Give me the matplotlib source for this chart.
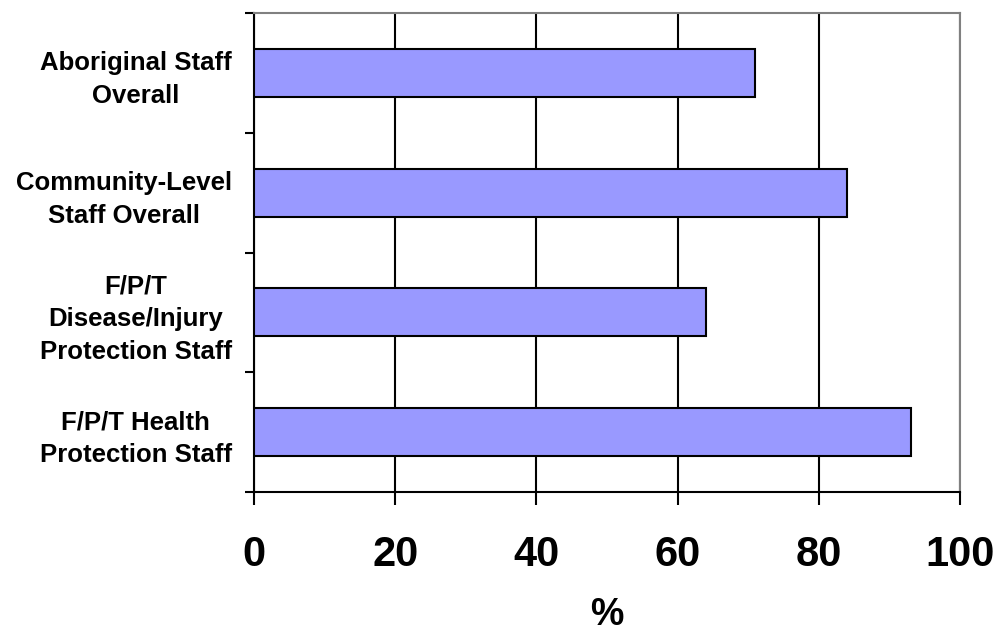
import matplotlib.pyplot as plt
from matplotlib.ticker import FixedLocator

plt.rcParams['font.family'] = ['Liberation Sans', 'DejaVu Sans']

# staff groups, top to bottom
groups = [
    "Aboriginal Staff\nOverall",
    "Community-Level\nStaff Overall",
    "F/P/T\nDisease/Injury\nProtection Staff",
    "F/P/T Health\nProtection Staff",
]
pct = [71, 84, 64, 93]
xticks = [0, 20, 40, 60, 80, 100]

fig = plt.figure(figsize=(9.97, 6.36), dpi=100)
ax = fig.add_axes([254 / 997, 1 - 492 / 636, 706 / 997, 479 / 636])

pos = list(range(len(groups)))
ax.barh(pos, pct, height=0.4, color="#9999FF", edgecolor="black", linewidth=1.5, zorder=3)

ax.set_xlim(0, 100)
ax.set_ylim(len(groups) - 0.5, -0.5)

ax.set_xticks(xticks)
ax.set_xticklabels([str(v) for v in xticks], fontsize=30, fontweight="bold")
ax.tick_params(axis="x", which="major", direction="out", length=9.5, width=1.5, pad=21.5)
ax.xaxis.grid(True, color="black", linewidth=1.5, zorder=1)
ax.set_axisbelow(True)

# boundary ticks between groups, labels sit on minor ticks at group centres
ax.yaxis.set_major_locator(FixedLocator([i - 0.5 for i in range(len(groups) + 1)]))
ax.yaxis.set_minor_locator(FixedLocator(pos))
ax.set_yticklabels([], minor=False)
ax.set_yticklabels(groups, minor=True, fontsize=18.5, fontweight="bold",
                   ha="right", multialignment="center", linespacing=1.45)
ax.tick_params(axis="y", which="major", direction="out", length=6.5, width=1.5)
ax.tick_params(axis="y", which="minor", length=0, pad=16)

ax.set_xlabel("%", fontsize=27, fontweight="bold", labelpad=16)

for side in ("left", "bottom"):
    ax.spines[side].set_color("black")
    ax.spines[side].set_linewidth(1.5)
for side in ("top", "right"):
    ax.spines[side].set_color("#808080")
    ax.spines[side].set_linewidth(1.5)

fig.savefig("out.png", dpi=100)
